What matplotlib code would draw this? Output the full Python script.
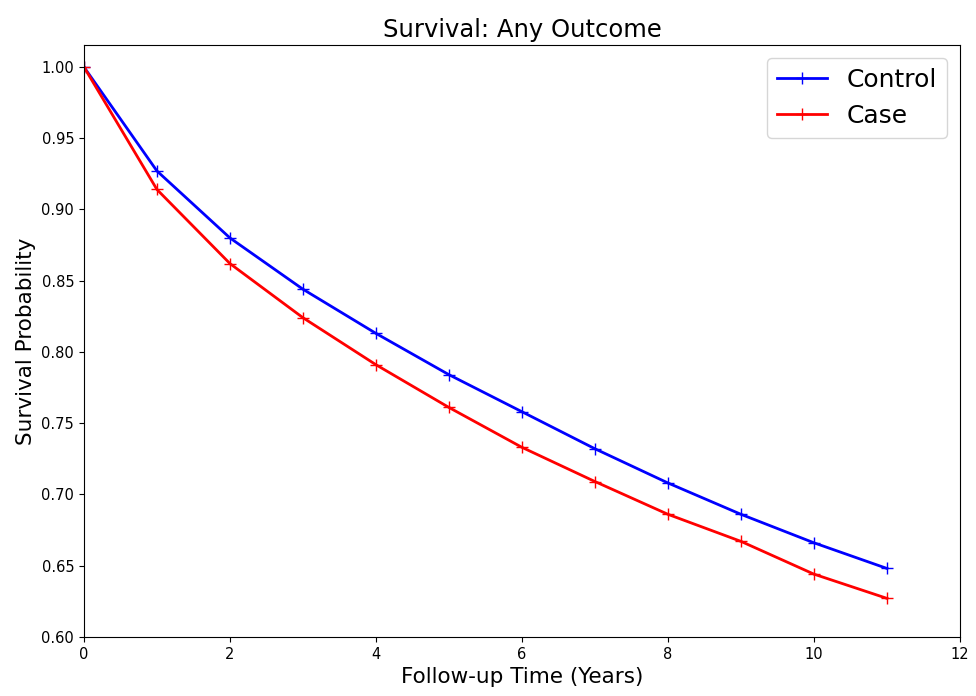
import matplotlib
matplotlib.use("Agg")
import matplotlib.pyplot as plt

years = [0, 1, 2, 3, 4, 5, 6, 7, 8, 9, 10, 11]
control = [1.000, 0.927, 0.880, 0.844, 0.813, 0.784, 0.758, 0.732, 0.708, 0.686, 0.666, 0.648]
case = [1.000, 0.914, 0.862, 0.824, 0.791, 0.761, 0.733, 0.709, 0.686, 0.667, 0.644, 0.627]

fig = plt.figure(figsize=(9.76, 6.96), dpi=100)
ax = fig.add_axes([0.086, 0.085, 0.8976, 0.8503])
ax.plot(years, control, color="blue", marker="+", markersize=8, linewidth=2, label="Control")
ax.plot(years, case, color="red", marker="+", markersize=8, linewidth=2, label="Case")
ax.set_xlim(0, 12)
ax.set_ylim(0.6, 1.0154)
ax.set_xticks([0, 2, 4, 6, 8, 10, 12])
ax.set_yticks([0.60, 0.65, 0.70, 0.75, 0.80, 0.85, 0.90, 0.95, 1.00])
ax.set_yticklabels([f"{v:.2f}" for v in [0.60, 0.65, 0.70, 0.75, 0.80, 0.85, 0.90, 0.95, 1.00]])
ax.tick_params(labelsize=10.5)
ax.set_title("Survival: Any Outcome", fontsize=17.5)
ax.set_xlabel("Follow-up Time (Years)", fontsize=15.5)
ax.set_ylabel("Survival Probability", fontsize=15.5)
ax.legend(loc="upper right", fontsize=18)
fig.savefig("out.png", dpi=100)
